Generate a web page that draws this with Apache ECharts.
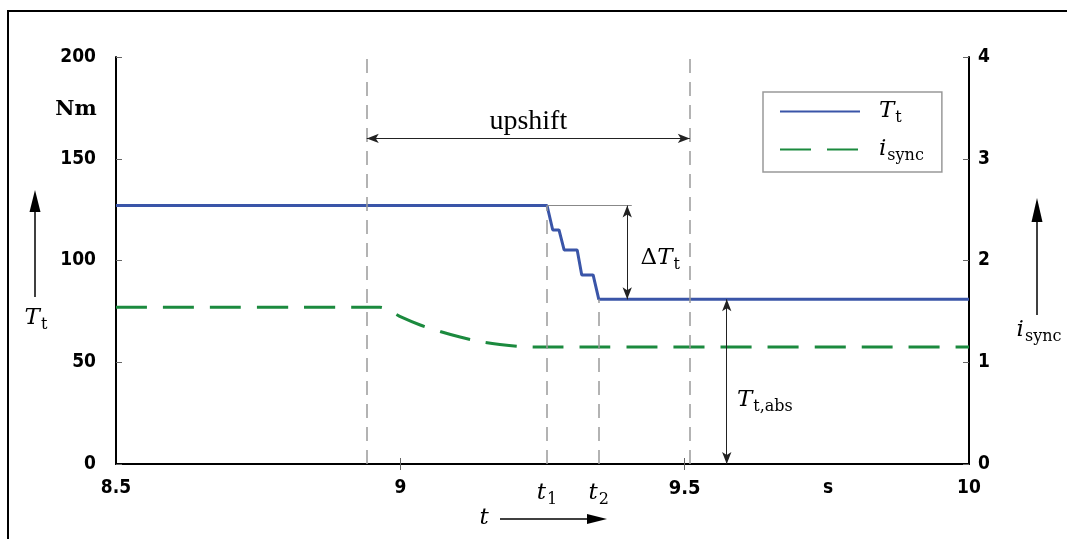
<!DOCTYPE html>
<html>
<head>
<meta charset="utf-8">
<title>Upshift torque</title>
<script src="https://cdn.jsdelivr.net/npm/echarts@6/dist/echarts.min.js"></script>
<style>
  html, body { margin: 0; padding: 0; background: #fff; }
  #chart { width: 1067px; height: 539px; }
</style>
</head>
<body>
<div id="chart"></div>
<script>
// time instants (s)
var tShiftStart = 8.941
var t1 = 9.258
var t2 = 9.349
var tShiftEnd = 9.509

// turbine torque T_t (Nm) over time
var torqueData = [
  [8.5, 127], [9.258, 127], [9.268, 115], [9.279, 115], [9.288, 105.2],
  [9.311, 105.2], [9.319, 92.9], [9.339, 92.9], [9.349, 80.9], [10, 80.9]
]

// synchronous ratio i_sync over time
var syncData = [
  [8.5, 1.54], [8.964, 1.54], [8.982, 1.504], [9.003, 1.44], [9.035, 1.366],
  [9.07, 1.302], [9.105, 1.248], [9.14, 1.204], [9.175, 1.175], [9.21, 1.155],
  [9.246, 1.15], [10, 1.15]
]

// bottom axis labels
var xLabelValues = [8.5, 9, t1, t2, 9.5, 9.752, 10]
var xLabelTexts = ['8.5', '9', '{it|t}{sub|1}', '{it|t}{sub|2}', '{b|9.5}', 's', '10']
var xTickValues = [9, 9.5]

var tHigh = torqueData[0][1]
var tLow = torqueData[torqueData.length - 1][1]

var serif = 'DejaVu Serif'
var sans = '"DejaVu Sans Condensed", Roboto, sans-serif'
var rich = {
  it: { fontFamily: serif, fontStyle: 'italic', fontWeight: 'normal', fontSize: 23, color: '#000' },
  rm: { fontFamily: serif, fontWeight: 'normal', fontSize: 23, color: '#000' },
  sub: { fontFamily: serif, fontWeight: 'normal', fontSize: 16, color: '#000', padding: [13, 0, 0, 1] },
  b: { fontFamily: sans, fontWeight: 'bold', fontSize: 20, color: '#000' }
}
var axisFont = {
  fontFamily: sans,
  fontWeight: 'bold',
  fontSize: 19,
  color: '#000'
}

var gray = '#9a9a9a'
var dashGray = { color: gray, width: 1.5, type: [14, 9] }

function seg(a, b, style, arrows) {
  return [
    { coord: a, symbol: arrows ? 'arrow' : 'none', lineStyle: style },
    { coord: b, symbol: arrows ? 'arrow' : 'none' }
  ]
}

function note(coord, text) {
  return {
    coord: coord,
    symbolSize: 0,
    label: { show: true, position: 'inside', formatter: text, rich: rich }
  }
}

var chart = echarts.init(document.getElementById('chart'))

var option = {
  backgroundColor: '#fff',
  animation: false,
  grid: { left: 116, right: 98, top: 57, bottom: 75 },
  legend: {
    orient: 'vertical',
    left: 763,
    top: 92,
    padding: [8, 18, 8, 16],
    itemWidth: 80,
    itemHeight: 14,
    itemGap: 12,
    borderColor: '#999',
    borderWidth: 1.5,
    itemStyle: { opacity: 0 },
    data: ['Tt', 'isync'],
    formatter: function (name) {
      return name === 'Tt' ? '{it|T}{sub|t}' : '{it|i}{sub|sync}'
    },
    textStyle: { padding: [0, 0, 0, 14], rich: rich }
  },
  xAxis: [
    {
      type: 'value',
      min: 8.5,
      max: 10,
      position: 'bottom',
      splitLine: { show: false },
      axisLine: { lineStyle: { color: '#000', width: 2 } },
      axisTick: { inside: true, length: 6, customValues: xTickValues, lineStyle: { color: '#666' } },
      axisLabel: Object.assign({}, axisFont, {
        margin: 15,
        customValues: xLabelValues,
        rich: rich,
        formatter: function (v) {
          for (var i = 0; i < xLabelValues.length; i++) {
            if (Math.abs(xLabelValues[i] - v) < 1e-6) return xLabelTexts[i]
          }
          return ''
        }
      })
    },
    {
      type: 'value',
      min: 8.5,
      max: 10,
      position: 'top',
      splitLine: { show: false },
      axisLine: { lineStyle: { color: '#000', width: 2 } },
      axisTick: { show: true, inside: true, length: 6, customValues: xTickValues, lineStyle: { color: '#666' } },
      axisLabel: { show: false }
    }
  ],
  yAxis: [
    {
      type: 'value',
      min: 0,
      max: 200,
      interval: 50,
      position: 'left',
      splitLine: { show: false },
      axisLine: { show: true, lineStyle: { color: '#000', width: 2 } },
      axisTick: { show: true, inside: true, length: 6, lineStyle: { color: '#666' } },
      axisLabel: Object.assign({}, axisFont, { margin: 20 })
    },
    {
      type: 'value',
      min: 0,
      max: 4,
      interval: 1,
      position: 'right',
      splitLine: { show: false },
      axisLine: { show: true, lineStyle: { color: '#000', width: 2 } },
      axisTick: { show: true, inside: true, length: 6, lineStyle: { color: '#666' } },
      axisLabel: Object.assign({}, axisFont, { margin: 9 })
    }
  ],
  graphic: [
    // outer frame
    { type: 'rect', shape: { x: 8, y: 11, width: 1100, height: 600 }, style: { fill: 'none', stroke: '#000', lineWidth: 2 }, silent: true },
    // left axis title with arrow
    { type: 'line', shape: { x1: 35, y1: 297, x2: 35, y2: 208 }, style: { stroke: '#000', lineWidth: 1.5 } },
    { type: 'polygon', shape: { points: [[35, 190], [29.5, 212], [40.5, 212]] }, style: { fill: '#000' } },
    { type: 'text', x: 36, y: 318, style: { text: '{it|T}{sub|t}', rich: rich, align: 'center', verticalAlign: 'middle' } },
    { type: 'text', x: 76, y: 110, style: { text: 'Nm', fontFamily: serif, fontWeight: 'bold', fontSize: 21, fill: '#000', align: 'center', verticalAlign: 'middle' } },
    // right axis title with arrow
    { type: 'line', shape: { x1: 1037, y1: 315, x2: 1037, y2: 216 }, style: { stroke: '#000', lineWidth: 1.5 } },
    { type: 'polygon', shape: { points: [[1037, 198], [1031.5, 222], [1042.5, 222]] }, style: { fill: '#000' } },
    { type: 'text', x: 1039, y: 330, style: { text: '{it|i}{sub|sync}', rich: rich, align: 'center', verticalAlign: 'middle' } },
    // time axis title with arrow
    { type: 'text', x: 484, y: 518, style: { text: 't', fontFamily: serif, fontStyle: 'italic', fontSize: 23, fill: '#000', align: 'center', verticalAlign: 'middle' } },
    { type: 'line', shape: { x1: 500, y1: 519, x2: 590, y2: 519 }, style: { stroke: '#000', lineWidth: 1.5 } },
    { type: 'polygon', shape: { points: [[607, 519], [587, 514], [587, 524]] }, style: { fill: '#000' } }
  ],
  series: [
    {
      name: 'Tt',
      type: 'line',
      xAxisIndex: 0,
      yAxisIndex: 0,
      showSymbol: false,
      symbol: 'none',
      color: '#3a55a8',
      lineStyle: { color: '#3a55a8', width: 3 },
      data: torqueData,
      z: 3,
      markLine: {
        silent: true,
        symbolSize: [7, 12],
        label: { show: false },
        lineStyle: dashGray,
        data: [
          seg([tShiftStart, 0], [tShiftStart, 200], dashGray),
          seg([tShiftEnd, 0], [tShiftEnd, 200], dashGray),
          seg([t1, 0], [t1, tHigh], dashGray),
          seg([t2, 0], [t2, tLow], dashGray),
          seg([t1, tHigh], [9.407, tHigh], { color: '#888', width: 1, type: 'solid' }),
          seg([tShiftStart, 160], [tShiftEnd, 160], { color: '#222', width: 1, type: 'solid' }, true),
          seg([9.399, tHigh], [9.399, tLow], { color: '#222', width: 1, type: 'solid' }, true),
          seg([9.574, 0], [9.574, tLow], { color: '#222', width: 1, type: 'solid' }, true)
        ]
      },
      markPoint: {
        silent: true,
        symbol: 'circle',
        symbolSize: 0,
        data: [
          {
            coord: [(tShiftStart + tShiftEnd) / 2, 168],
            symbolSize: 0,
            label: { show: true, position: 'inside', formatter: 'upshift', fontFamily: 'Liberation Serif', fontSize: 28, color: '#000' }
          },
          note([9.457, 101], '{rm|Δ}{it|T}{sub|t}'),
          note([9.641, 31.4], '{it|T}{sub|t,abs}')
        ]
      }
    },
    {
      name: 'isync',
      type: 'line',
      xAxisIndex: 0,
      yAxisIndex: 1,
      showSymbol: false,
      symbol: 'none',
      smooth: 0.3,
      color: '#1b8a3e',
      lineStyle: { color: '#1b8a3e', width: 3, type: [31, 16] },
      data: syncData,
      z: 2
    }
  ]
}

chart.setOption(option)
</script>
</body>
</html>
